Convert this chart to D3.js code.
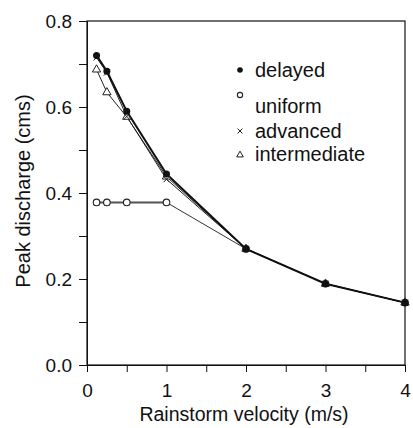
<!DOCTYPE html>
<html><head><meta charset="utf-8">
<script src="https://cdn.jsdelivr.net/npm/d3@7"></script>
<style>body{margin:0;background:#fff}svg{display:block}text{font-family:"Liberation Sans",Arial,sans-serif;fill:#111}</style>
</head><body><svg id="c" width="413" height="428"></svg>
<script>
const velocity = [0.12, 0.25, 0.5, 1, 2, 3, 4];
const delayed = [0.72, 0.683, 0.59, 0.444, 0.27, 0.189, 0.145];
const uniform = [0.378, 0.378, 0.378, 0.378, 0.27, 0.189, 0.145];
const advanced = [0.715, 0.68, 0.578, 0.432, 0.27, 0.189, 0.145];
const intermediate = [0.687, 0.634, 0.577, 0.438, 0.27, 0.189, 0.145];
const xTicks = [0, 1, 2, 3, 4];
const yTicks = [0.0, 0.2, 0.4, 0.6, 0.8];
const legendLabels = ["delayed", "uniform", "advanced", "intermediate"];

const svg = d3.select("#c");
const m = {l: 87, r: 8, t: 21, b: 63};
const W = 413, H = 428;
const x = d3.scaleLinear().domain([0, 4]).range([m.l, W - m.r]);
const y = d3.scaleLinear().domain([0, 0.8]).range([H - m.b, m.t]);

// frame
svg.append("rect").attr("x", m.l).attr("y", m.t).attr("width", W - m.r - m.l).attr("height", H - m.b - m.t)
  .attr("fill", "none").attr("stroke", "#111").attr("stroke-width", 1.2);

// x axis
const xa = svg.append("g").attr("transform", `translate(0,${H - m.b})`)
  .call(d3.axisBottom(x).tickValues(d3.range(0, 4.01, 0.5)).tickSize(7).tickPadding(0)
    .tickFormat(d => xTicks.includes(d) ? d3.format("d")(d) : ""));
xa.select(".domain").attr("stroke", "#111");
xa.selectAll(".tick line").attr("stroke", "#111");
xa.selectAll("text").attr("font-size", 19).attr("dy", null).attr("y", 32);

// y axis
const ya = svg.append("g").attr("transform", `translate(${m.l},0)`)
  .call(d3.axisLeft(y).tickValues(d3.range(0, 0.801, 0.1)).tickSize(8).tickPadding(0)
    .tickFormat(d => yTicks.some(t => Math.abs(t - d) < 1e-9) ? d3.format(".1f")(d) : ""));
ya.select(".domain").attr("stroke", "#111");
ya.selectAll(".tick line").attr("stroke", "#111");
ya.selectAll("text").attr("font-size", 19).attr("x", -15).attr("dy", "0.36em");

svg.append("text").attr("x", (m.l + W - m.r) / 2 - 2).attr("y", 421).attr("text-anchor", "middle")
  .attr("font-size", 19.5).text("Rainstorm velocity (m/s)");
svg.append("text").attr("transform", `translate(30,191) rotate(-90)`)
  .attr("text-anchor", "middle").attr("font-size", 20).text("Peak discharge (cms)");

const line = d3.line().x((d, i) => x(velocity[i])).y(d => y(d));
const series = [
  {v: uniform, w: 1, c: "#333"},
  {v: intermediate, w: 1, c: "#222"},
  {v: advanced, w: 1, c: "#222"},
  {v: delayed, w: 2, c: "#111"}
];
series.forEach(s => svg.append("path").datum(s.v).attr("d", line).attr("fill", "none")
  .attr("stroke", s.c).attr("stroke-width", s.w));
// thicker flat part of uniform
svg.append("path").datum(uniform.slice(0, 4)).attr("d", line).attr("fill", "none")
  .attr("stroke", "#555").attr("stroke-width", 2);

function drawMarker(g, kind, cx, cy, s) {
  s = s || 1;
  if (kind === 0) g.append("circle").attr("cx", cx).attr("cy", cy).attr("r", 3.5 * s).attr("fill", "#111");
  else if (kind === 1) g.append("circle").attr("cx", cx).attr("cy", cy).attr("r", 3.3 * s).attr("fill", "#fff").attr("stroke", "#222").attr("stroke-width", 1.1);
  else if (kind === 2) g.append("path").attr("d", `M${cx-3*s},${cy-3*s}L${cx+3*s},${cy+3*s}M${cx-3*s},${cy+3*s}L${cx+3*s},${cy-3*s}`).attr("stroke", "#222").attr("stroke-width", 1);
  else g.append("path").attr("d", d3.symbol().type(d3.symbolTriangle).size(30 * s * s)()).attr("transform", `translate(${cx},${cy})`).attr("fill", "#fff").attr("stroke", "#222").attr("stroke-width", 1);
}
const mk = svg.append("g");
[intermediate, uniform, advanced, delayed].forEach((arr, k) => {
  const kind = [3, 1, 2, 0][k];
  arr.forEach((v, i) => drawMarker(mk, kind, x(velocity[i]), y(v)));
});

// legend
const lg = svg.append("g");
const ly = [70, 95, 131, 155];
const lty = [77, 113, 138, 161];
legendLabels.forEach((t, k) => {
  drawMarker(lg, k, 240, ly[k], 0.8);
  lg.append("text").attr("x", 255).attr("y", lty[k]).attr("font-size", 20).text(t);
});
</script></body></html>
